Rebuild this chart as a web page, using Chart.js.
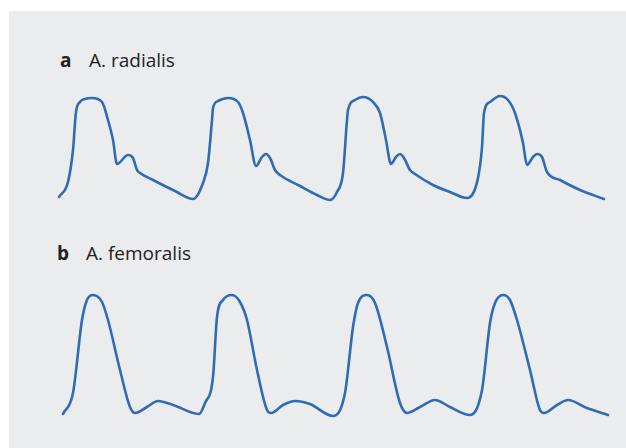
<!DOCTYPE html>
<html>
<head>
<meta charset="utf-8">
<script src="https://cdn.jsdelivr.net/npm/chart.js@4/dist/chart.umd.min.js"></script>
<style>
  html, body { margin: 0; padding: 0; background: #ffffff; }
  body { width: 626px; height: 448px; position: relative; overflow: hidden; }
  #panel { position: absolute; left: 9px; top: 11px; width: 617px; height: 437px; background: #ebeced; }
  .lbl { position: absolute; font-family: "Open Sans", sans-serif; font-size: 19px; line-height: 19px; color: #222222; white-space: nowrap; }
  .lbl b { font-weight: 700; }
  .lbl span { position: absolute; left: 29px; top: 0; }
  .cv { position: absolute; left: 0; }
</style>
</head>
<body>
<div id="panel"></div>
<div class="lbl" style="left:60px; top:51px;"><b>a</b><span>A. radialis</span></div>
<div class="lbl" style="left:57px; top:244px;"><b>b</b><span>A. femoralis</span></div>
<div class="cv" style="top:80px; width:626px; height:140px;"><canvas id="c1"></canvas></div>
<div class="cv" style="top:280px; width:626px; height:150px;"><canvas id="c2"></canvas></div>
<script>
// time in ms, pressure in mmHg
const radialisTime = [0, 54, 84, 102, 126, 156, 198, 258, 294, 324, 348, 414, 444, 468, 486, 564, 696, 804,
  864, 894, 918, 924, 954, 1014, 1074, 1104, 1146, 1182, 1218, 1242, 1266, 1296, 1326, 1446, 1548, 1626,
  1668, 1704, 1728, 1734, 1776, 1824, 1884, 1926, 1962, 1992, 2022, 2046, 2070, 2106, 2136, 2244, 2346, 2448,
  2514, 2538, 2550, 2586, 2646, 2694, 2736, 2784, 2808, 2844, 2868, 2898, 2928, 3006, 3126, 3270];
const radialisPressure = [81.2, 87.2, 100, 115.2, 119.2, 120.4, 120.8, 119.2, 112, 104, 94.4, 98, 96.8, 92, 90.8, 88, 83.6, 80.4,
  86.8, 94.8, 112, 116.8, 119.6, 120.8, 119.2, 114.8, 104, 93.6, 97.2, 98.4, 96.8, 92, 90, 85.6, 82, 80,
  83.2, 90.8, 112, 116, 120, 121.2, 119.2, 114.8, 104, 94.4, 97.2, 98.4, 96.8, 92, 90.4, 86, 83.2, 80.8,
  88.8, 101.2, 114.8, 119.2, 121.6, 120, 114.8, 102.8, 94, 97.2, 98.4, 97.2, 91.2, 88, 84, 80.4];

const femoralisTime = [24, 84, 138, 168, 204, 258, 294, 366, 426, 456, 528, 594, 684, 840,
  876, 924, 948, 984, 1038, 1086, 1128, 1188, 1248, 1272, 1344, 1416, 1506, 1644,
  1716, 1764, 1794, 1848, 1896, 1968, 2046, 2088, 2166, 2256, 2346, 2466,
  2538, 2586, 2616, 2664, 2706, 2748, 2826, 2886, 2910, 2988, 3054, 3168, 3294];
const femoralisPressure = [80.8, 89.2, 118.4, 126.4, 128.4, 125.6, 118.4, 98.4, 83.6, 81.2, 83.6, 86, 84.4, 80.8,
  85.2, 95.6, 119.6, 126.4, 128.4, 125.6, 118.4, 98.4, 82.4, 81.2, 84.4, 86, 84.8, 80,
  89.2, 115.6, 125.2, 128.4, 125.2, 107.6, 85.2, 81.2, 83.6, 86.4, 83.6, 80.4,
  90.4, 117.2, 125.2, 128.4, 126.4, 118.4, 98.4, 82.4, 81.2, 84.4, 86.4, 83.2, 80.4];

const LINE = '#2f6cb3';

function makeChart(id, times, values, yMin, yMax) {
  const pts = times.map((t, i) => ({ x: t, y: values[i] }));
  return new Chart(document.getElementById(id), {
    type: 'line',
    data: {
      datasets: [{
        data: pts,
        borderColor: LINE,
        borderWidth: 2.6,
        pointRadius: 0,
        fill: false,
        cubicInterpolationMode: 'monotone',
        borderCapStyle: 'round',
        borderJoinStyle: 'round'
      }]
    },
    options: {
      animation: false,
      responsive: true,
      maintainAspectRatio: false,
      layout: { padding: 0 },
      plugins: { legend: { display: false }, tooltip: { enabled: false }, title: { display: false } },
      scales: {
        x: { type: 'linear', display: false, min: -354, max: 3402 },
        y: { type: 'linear', display: false, min: yMin, max: yMax }
      }
    }
  });
}

makeChart('c1', radialisTime, radialisPressure, 72, 128);
makeChart('c2', femoralisTime, femoralisPressure, 74.4, 134.4);
</script>
</body>
</html>
